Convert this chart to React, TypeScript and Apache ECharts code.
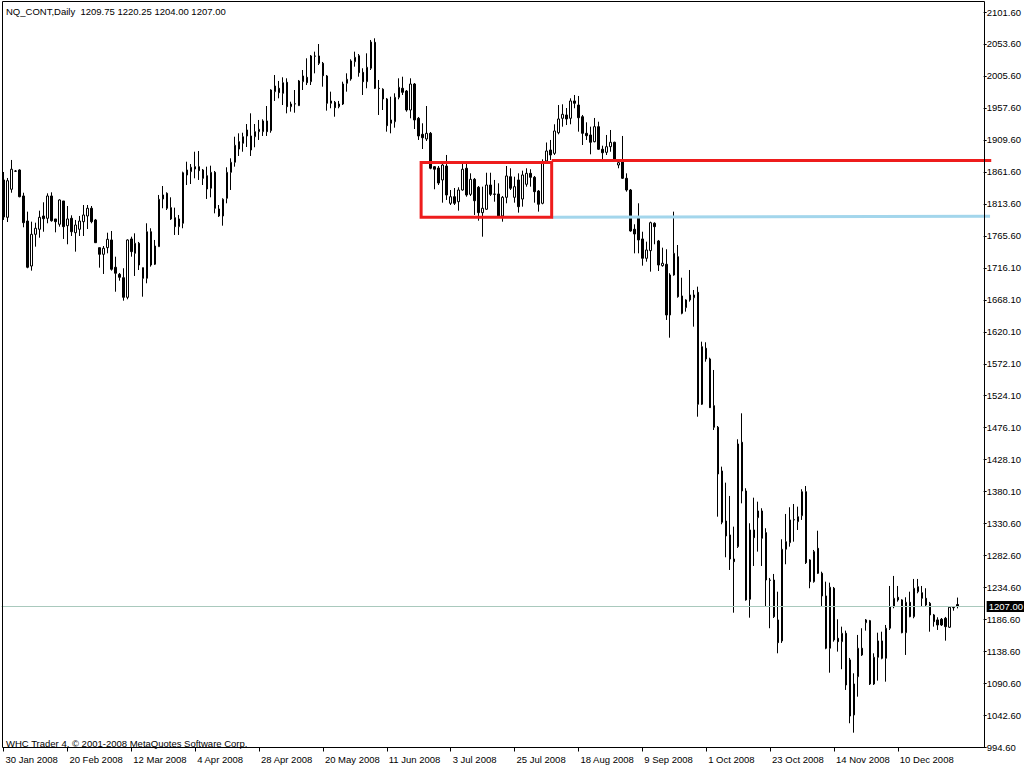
import React, { useEffect, useRef } from "react";
import * as echarts from "echarts";

const titleText = "NQ_CONT,Daily  1209.75 1220.25 1204.00 1207.00";
const footerText = "WHC Trader 4, \u00A9 2001-2008 MetaQuotes Software Corp.";

const xTickLabels = [
  "30 Jan 2008", "20 Feb 2008", "12 Mar 2008", "4 Apr 2008", "28 Apr 2008",
  "20 May 2008", "11 Jun 2008", "3 Jul 2008", "25 Jul 2008", "18 Aug 2008",
  "9 Sep 2008", "1 Oct 2008", "23 Oct 2008", "14 Nov 2008", "10 Dec 2008",
];
const barsPerLabel = 16;
const emptySlotsRight = 6;

const yTickLabels = [
  "994.60", "1042.60", "1090.60", "1138.60", "1186.60", "1234.60", "1282.60", "1330.60",
  "1380.10", "1428.10", "1476.10", "1524.10", "1572.10", "1620.10", "1668.10", "1716.10",
  "1765.60", "1813.60", "1861.60", "1909.60", "1957.60", "2005.60", "2053.60", "2101.60",
];
const yMin = 994.6;
const yMax = 2101.6;

const open = [
  1848.8, 1792.6, 1834.8, 1862.3, 1863.8, 1824.7, 1787.0, 1719.3, 1767.0, 1774.6,
  1794.6, 1791.1, 1824.7, 1790.1, 1782.1, 1817.2, 1780.0, 1791.1, 1769.4, 1774.6,
  1786.0, 1794.6, 1806.2, 1788.6, 1746.9, 1736.9, 1746.9, 1758.5, 1717.4, 1706.8,
  1701.7, 1672.2, 1760.0, 1738.4, 1753.5, 1716.8, 1700.8, 1770.9, 1721.9, 1748.4,
  1820.2, 1828.7, 1807.1, 1792.0, 1778.5, 1783.6, 1856.3, 1861.3, 1868.8, 1868.8,
  1863.8, 1855.2, 1836.3, 1860.3, 1805.1, 1794.6, 1821.2, 1860.3, 1875.4, 1906.4,
  1904.0, 1915.0, 1893.9, 1913.9, 1921.5, 1921.5, 1937.6, 1923.0, 1981.7, 1986.8,
  1979.2, 1995.8, 1959.1, 1963.1, 1960.6, 1996.7, 2003.3, 1996.7, 2035.4, 2035.4,
  2024.4, 2005.3, 1964.2, 1965.7, 1959.1, 1963.1, 1994.3, 2000.8, 2026.8, 2035.8,
  2010.8, 1996.7, 2016.9, 2056.0, 1986.8, 1985.3, 1970.7, 1934.1, 1936.5, 1973.2,
  1986.8, 1982.7, 1954.1, 1993.2, 1941.6, 1917.5, 1910.5, 1919.0, 1868.8, 1866.8,
  1848.8, 1869.8, 1813.7, 1823.6, 1816.1, 1833.7, 1866.4, 1827.2, 1849.8, 1837.8,
  1799.6, 1804.7, 1841.2, 1827.7, 1827.7, 1794.6, 1822.7, 1853.7, 1822.7, 1848.8,
  1820.1, 1842.3, 1858.8, 1852.8, 1832.2, 1813.7, 1877.4, 1893.9, 1888.9, 1919.9,
  1941.6, 1946.6, 1941.6, 1967.7, 1961.6, 1944.0, 1919.0, 1916.5, 1906.4, 1929.0,
  1895.0, 1890.4, 1898.9, 1905.5, 1871.3, 1876.3, 1851.3, 1833.7, 1774.6, 1792.0,
  1760.0, 1730.9, 1742.4, 1783.6, 1757.0, 1719.8, 1721.9, 1645.6, 1705.8, 1733.3,
  1674.2, 1656.6, 1668.2, 1671.6, 1679.7, 1511.2, 1595.5, 1579.4, 1509.1, 1476.6,
  1410.8, 1335.5, 1314.5, 1278.3, 1296.9, 1454.0, 1380.7, 1217.7, 1322.0, 1340.5,
  1350.6, 1318.0, 1246.7, 1246.7, 1186.6, 1155.0, 1293.0, 1302.9, 1337.1, 1334.5,
  1343.5, 1379.6, 1276.9, 1244.2, 1294.4, 1256.8, 1222.7, 1144.0, 1234.3, 1159.0,
  1153.9, 1166.5, 1126.4, 1043.6, 1101.2, 1144.0, 1182.5, 1185.5, 1090.2, 1130.4,
  1155.0, 1128.9, 1174.1, 1206.6, 1220.7, 1216.7, 1167.4, 1213.2, 1191.5, 1229.1,
  1227.6, 1219.2, 1211.7, 1194.1, 1186.6, 1187.6, 1189.1, 1175.6, 1205.5, 1209.75,
];

const close = [
  1793.1, 1847.7, 1864.9, 1862.0, 1823.6, 1784.5, 1717.4, 1767.0, 1776.1, 1792.6,
  1790.5, 1824.7, 1787.5, 1786.0, 1818.7, 1778.5, 1790.1, 1770.9, 1781.0, 1787.0,
  1796.1, 1806.2, 1786.0, 1754.4, 1736.9, 1746.0, 1759.5, 1714.4, 1708.4, 1702.3,
  1672.2, 1758.5, 1740.9, 1753.5, 1720.8, 1700.8, 1770.9, 1720.8, 1749.4, 1819.7,
  1826.2, 1806.2, 1790.1, 1778.5, 1790.1, 1859.7, 1863.8, 1867.9, 1865.3, 1862.8,
  1851.3, 1835.2, 1860.3, 1806.2, 1794.6, 1819.7, 1860.3, 1875.4, 1901.0, 1895.4,
  1913.9, 1924.0, 1915.0, 1921.5, 1925.1, 1937.6, 1921.5, 1984.2, 1990.2, 1980.2,
  1995.2, 1959.1, 1963.1, 1963.6, 1997.8, 2005.3, 1995.2, 2035.4, 2035.0, 2024.4,
  2005.7, 1964.2, 1967.7, 1957.6, 1963.1, 1993.2, 2000.3, 2027.9, 2033.4, 2010.3,
  1996.7, 2018.4, 2056.4, 1986.8, 1986.3, 1970.7, 1930.5, 1939.1, 1973.2, 1988.3,
  1980.7, 1954.1, 1993.2, 1939.1, 1915.0, 1912.4, 1919.0, 1866.4, 1864.9, 1844.2,
  1871.3, 1826.2, 1823.6, 1813.7, 1833.7, 1864.9, 1826.2, 1849.8, 1817.6, 1799.6,
  1806.2, 1841.2, 1827.2, 1827.2, 1794.6, 1822.7, 1854.8, 1836.3, 1838.7, 1808.6,
  1856.3, 1858.8, 1852.8, 1831.2, 1812.2, 1876.3, 1892.4, 1886.4, 1922.5, 1940.6,
  1947.6, 1940.6, 1967.7, 1964.2, 1942.5, 1919.0, 1915.4, 1905.5, 1929.0, 1895.0,
  1889.8, 1898.9, 1905.5, 1878.9, 1874.8, 1851.3, 1833.7, 1772.0, 1767.5, 1758.5,
  1730.9, 1743.4, 1784.5, 1778.5, 1720.8, 1723.4, 1645.6, 1705.8, 1738.4, 1673.1,
  1648.1, 1668.2, 1675.7, 1675.7, 1511.2, 1597.9, 1579.4, 1506.1, 1476.6, 1406.3,
  1333.6, 1313.0, 1278.3, 1274.3, 1451.4, 1380.7, 1216.7, 1322.0, 1310.4, 1350.6,
  1309.5, 1246.7, 1246.2, 1191.5, 1152.4, 1293.0, 1304.4, 1337.1, 1337.6, 1342.0,
  1379.6, 1272.8, 1244.2, 1289.4, 1256.8, 1222.7, 1144.0, 1235.8, 1156.5, 1153.9,
  1166.5, 1088.7, 1042.0, 1090.2, 1144.0, 1133.9, 1186.6, 1090.2, 1130.4, 1155.0,
  1128.9, 1174.1, 1206.6, 1219.2, 1216.7, 1167.4, 1213.2, 1191.5, 1234.3, 1236.7,
  1219.2, 1209.1, 1194.1, 1184.0, 1179.0, 1179.0, 1176.5, 1205.7, 1205.0, 1207.0,
];

const low = [
  1788.6, 1785.5, 1829.6, 1860.8, 1822.7, 1777.6, 1715.9, 1712.3, 1748.4, 1761.9,
  1770.9, 1783.6, 1786.0, 1770.0, 1778.5, 1760.0, 1752.0, 1764.5, 1740.9, 1764.5,
  1764.5, 1775.0, 1783.6, 1753.9, 1716.8, 1707.3, 1738.4, 1712.3, 1680.6, 1697.2,
  1667.1, 1669.2, 1733.3, 1704.3, 1713.3, 1673.1, 1693.3, 1718.3, 1720.8, 1748.4,
  1806.2, 1803.6, 1788.6, 1766.0, 1766.0, 1776.1, 1841.2, 1842.7, 1851.3, 1848.8,
  1841.2, 1820.2, 1822.7, 1798.6, 1793.1, 1780.0, 1813.7, 1833.7, 1868.8, 1884.9,
  1891.3, 1898.4, 1884.9, 1898.0, 1909.0, 1915.0, 1915.0, 1919.9, 1967.7, 1971.7,
  1961.6, 1949.1, 1951.6, 1950.0, 1960.1, 1984.2, 1991.7, 1991.7, 2009.3, 2021.8,
  1989.2, 1953.1, 1956.7, 1944.0, 1956.7, 1961.6, 1981.7, 1998.2, 2019.3, 2004.2,
  1976.7, 1986.8, 2014.3, 1985.7, 1946.6, 1954.1, 1921.5, 1919.0, 1927.5, 1970.2,
  1976.7, 1951.6, 1941.6, 1925.5, 1909.0, 1895.4, 1907.5, 1864.9, 1834.8, 1841.2,
  1814.6, 1818.7, 1811.1, 1811.1, 1802.6, 1832.7, 1823.6, 1824.7, 1796.1, 1787.5,
  1763.4, 1803.6, 1824.7, 1816.1, 1793.1, 1786.0, 1813.7, 1833.7, 1814.6, 1799.6,
  1808.6, 1838.7, 1838.7, 1814.6, 1801.1, 1812.2, 1876.3, 1878.9, 1886.4, 1917.5,
  1929.0, 1931.5, 1932.6, 1956.7, 1921.5, 1901.4, 1909.0, 1887.4, 1905.5, 1893.9,
  1877.4, 1886.4, 1891.3, 1876.3, 1866.4, 1850.3, 1831.2, 1770.9, 1738.4, 1738.4,
  1719.8, 1725.8, 1710.8, 1752.0, 1711.8, 1718.3, 1638.1, 1611.4, 1704.7, 1671.6,
  1646.6, 1650.6, 1665.6, 1628.0, 1492.5, 1510.1, 1575.3, 1505.6, 1472.5, 1342.0,
  1330.6, 1280.9, 1261.8, 1197.5, 1294.9, 1362.1, 1215.6, 1190.0, 1267.8, 1289.4,
  1267.8, 1206.6, 1174.1, 1189.5, 1136.4, 1152.0, 1270.4, 1296.9, 1304.4, 1322.0,
  1337.1, 1270.8, 1234.3, 1242.7, 1255.8, 1207.6, 1142.5, 1107.2, 1153.9, 1138.9,
  1112.4, 1081.2, 1031.1, 1016.9, 1071.1, 1132.4, 1170.5, 1088.7, 1088.7, 1095.2,
  1127.4, 1093.7, 1171.5, 1204.2, 1214.1, 1166.5, 1133.9, 1190.6, 1189.1, 1226.7,
  1206.6, 1206.6, 1168.9, 1176.5, 1171.5, 1177.5, 1155.4, 1174.5, 1200.5, 1204.0,
];

const high = [
  1860.8, 1851.8, 1878.9, 1863.8, 1864.9, 1829.6, 1801.1, 1786.0, 1784.5, 1802.6,
  1815.2, 1828.7, 1830.2, 1790.1, 1819.7, 1817.2, 1809.6, 1795.6, 1788.6, 1794.6,
  1811.1, 1811.1, 1809.6, 1790.1, 1746.9, 1749.4, 1769.4, 1772.0, 1733.3, 1708.8,
  1715.9, 1759.5, 1763.4, 1768.5, 1755.5, 1716.8, 1783.6, 1776.1, 1758.5, 1826.2,
  1839.7, 1830.2, 1822.7, 1807.1, 1796.1, 1861.3, 1876.3, 1872.8, 1891.3, 1892.4,
  1865.3, 1868.8, 1870.3, 1862.3, 1811.1, 1821.2, 1867.9, 1881.4, 1913.9, 1919.0,
  1919.9, 1933.0, 1949.1, 1933.0, 1939.1, 1940.1, 1960.1, 1985.3, 2006.8, 1997.8,
  2003.3, 2001.8, 1966.6, 1984.2, 1999.3, 2014.3, 2031.9, 2036.9, 2041.9, 2053.4,
  2026.4, 2006.8, 1981.7, 1967.7, 1967.7, 1996.7, 2009.3, 2030.4, 2041.9, 2038.4,
  2016.9, 2039.4, 2059.5, 2062.0, 1999.3, 1986.8, 1972.2, 1974.1, 1979.2, 2001.8,
  2004.2, 1984.2, 2001.8, 1994.7, 1943.6, 1934.1, 1960.1, 1921.0, 1869.8, 1869.8,
  1872.8, 1886.4, 1833.7, 1836.7, 1837.8, 1872.8, 1872.8, 1858.8, 1851.8, 1839.7,
  1838.7, 1859.7, 1859.7, 1848.8, 1843.8, 1824.7, 1869.8, 1866.4, 1853.7, 1858.8,
  1862.8, 1866.4, 1864.9, 1854.8, 1833.7, 1879.9, 1905.2, 1909.0, 1932.6, 1961.6,
  1962.7, 1957.1, 1971.7, 1976.7, 1975.2, 1946.6, 1935.6, 1929.0, 1942.1, 1936.5,
  1900.4, 1916.5, 1924.0, 1906.4, 1877.4, 1915.0, 1858.8, 1835.2, 1782.1, 1813.7,
  1770.9, 1755.9, 1786.0, 1785.1, 1758.5, 1746.9, 1744.5, 1708.4, 1801.1, 1750.9,
  1701.7, 1669.2, 1713.3, 1683.2, 1688.2, 1605.4, 1604.5, 1581.3, 1562.8, 1478.5,
  1417.3, 1393.2, 1373.2, 1327.0, 1458.5, 1497.6, 1384.8, 1332.1, 1370.6, 1364.6,
  1354.7, 1324.6, 1249.8, 1255.8, 1229.1, 1308.0, 1346.1, 1356.2, 1361.1, 1357.1,
  1383.3, 1388.2, 1278.0, 1291.9, 1320.9, 1259.2, 1244.2, 1242.7, 1236.2, 1187.6,
  1176.5, 1170.5, 1129.4, 1106.3, 1164.0, 1174.1, 1188.0, 1186.6, 1136.4, 1167.4,
  1168.9, 1179.0, 1237.7, 1252.8, 1237.7, 1217.7, 1220.7, 1229.1, 1248.3, 1248.3,
  1237.7, 1234.3, 1213.7, 1195.6, 1190.6, 1189.5, 1191.1, 1206.9, 1207.5, 1220.25,
];

const lastPrice = 1207.0;
const lastPriceLabel = "1207.00";

// Drawn objects: [start bar, end bar] and prices
const boxBars = [104.6, 137.3];
const boxPrices = [1875.2, 1792.8];
const redLineBars = [137.3, 247.4];
const redLinePrices = [1878.0, 1878.0];
const blueLineBars = [137.3, 247.1];
const blueLinePrices = [1792.8, 1794.3];

const FONT = '"Liberation Sans", Arial, sans-serif';
const FS = 9.5;

export default function App() {
  const ref = useRef<HTMLDivElement>(null);

  useEffect(() => {
    if (!ref.current) return;
    const chart = echarts.init(ref.current, undefined, { renderer: "svg" });

    const slots = Array.from({ length: open.length + emptySlotsRight }, (_, i) => String(i));
    const candles = open.map((o, i) => [o, close[i], low[i], high[i]]);
    const showTick = (i: number) =>
      i % barsPerLabel === 0 && i / barsPerLabel < xTickLabels.length;

    chart.setOption({
      animation: false,
      backgroundColor: "#ffffff",
      grid: { left: 1.5, right: 38.5, top: 12, bottom: 20.5, containLabel: false },
      xAxis: {
        type: "category",
        data: slots,
        boundaryGap: true,
        axisLine: { show: false },
        axisTick: {
          show: true,
          alignWithLabel: true,
          interval: showTick,
          length: 4,
          lineStyle: { color: "#000", width: 1 },
        },
        axisLabel: {
          interval: showTick,
          formatter: (_v: string, i: number) => xTickLabels[i / barsPerLabel] ?? "",
          align: "left",
          margin: 7,
          padding: [0, 0, 0, 2],
          color: "#000",
          fontSize: FS,
          fontFamily: FONT,
        },
        splitLine: { show: false },
      },
      yAxis: [
        {
          type: "value",
          min: yMin,
          max: yMax,
          position: "left",
          show: false,
          splitLine: { show: false },
        },
        {
          type: "category",
          data: yTickLabels,
          boundaryGap: false,
          position: "right",
          axisLine: { show: false },
          axisTick: { show: true, length: 3, interval: 0, lineStyle: { color: "#000" } },
          axisLabel: {
            interval: 0,
            margin: 3,
            color: "#000",
            fontSize: FS,
            fontFamily: FONT,
          },
          splitLine: { show: false },
        },
      ],
      series: [
        {
          type: "candlestick",
          xAxisIndex: 0,
          yAxisIndex: 0,
          data: candles,
          barWidth: 2,
          itemStyle: {
            color: "#ffffff",
            color0: "#000000",
            borderColor: "#000000",
            borderColor0: "#000000",
            borderWidth: 1,
          },
          markLine: {
            silent: true,
            symbol: ["none", "none"],
            data: [{ yAxis: lastPrice }],
            lineStyle: { color: "#a9c9bd", width: 1, type: "solid" },
            label: {
              show: true,
              position: "end",
              distance: 3,
              formatter: lastPriceLabel,
              backgroundColor: "#000",
              color: "#fff",
              padding: [1, 2, 0, 2],
              fontSize: FS,
              fontFamily: FONT,
            },
          },
        },
      ],
    });

    const x0 = chart.convertToPixel({ xAxisIndex: 0 }, 0) as number;
    const x1 = chart.convertToPixel({ xAxisIndex: 0 }, 1) as number;
    const px = (bar: number) => x0 + (x1 - x0) * bar;
    const py = (p: number) => chart.convertToPixel({ yAxisIndex: 0 }, p) as number;

    const bx1 = px(boxBars[0]);
    const bx2 = px(boxBars[1]);
    const by1 = py(boxPrices[0]);
    const by2 = py(boxPrices[1]);

    chart.setOption({
      graphic: [
        {
          type: "rect",
          shape: { x: 2.5, y: 1.5, width: 982, height: 746 },
          style: { fill: "none", stroke: "#000", lineWidth: 1 },
          z: 10,
          silent: true,
        },
        {
          type: "text",
          x: 6,
          y: 6,
          style: { text: titleText, fill: "#000", font: `${FS}px ${FONT}` },
          z: 10,
        },
        {
          type: "text",
          x: 6,
          y: 738,
          style: { text: footerText, fill: "#000", font: `${FS}px ${FONT}` },
          z: 10,
        },
        {
          type: "line",
          shape: { x1: px(blueLineBars[0]), y1: py(blueLinePrices[0]), x2: px(blueLineBars[1]), y2: py(blueLinePrices[1]) },
          style: { stroke: "#a3d6ec", lineWidth: 3 },
          z: 9,
        },
        {
          type: "line",
          shape: { x1: px(redLineBars[0]), y1: py(redLinePrices[0]), x2: px(redLineBars[1]), y2: py(redLinePrices[1]) },
          style: { stroke: "#ee1c1c", lineWidth: 3 },
          z: 9,
        },
        {
          type: "rect",
          shape: { x: bx1, y: by1, width: bx2 - bx1, height: by2 - by1 },
          style: { fill: "none", stroke: "#ee1c1c", lineWidth: 3 },
          z: 9,
        },
      ],
    });

    return () => chart.dispose();
  }, []);

  return (
    <div
      ref={ref}
      style={{ position: "absolute", left: 0, top: 0, width: 1024, height: 768, background: "#fff" }}
    />
  );
}
